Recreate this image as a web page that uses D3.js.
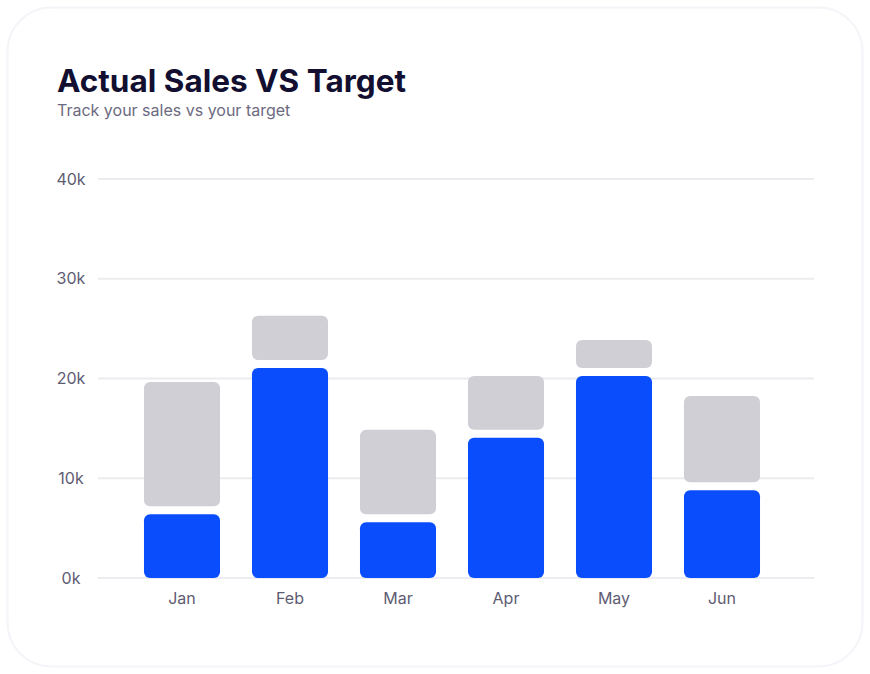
<html>
<head>
<meta charset="utf-8">
<title>Actual Sales VS Target</title>
<style>
  body { margin: 0; background: #ffffff; font-family: Inter, "Noto Sans", sans-serif; }
  svg { display: block; }
  .grid line { stroke: #ececf0; stroke-width: 2px; }
  .tick-label { fill: #5e5c72; font-size: 16px; }
</style>
</head>
<body>
<script src="https://cdn.jsdelivr.net/npm/d3@7/dist/d3.min.js"></script>
<script>
var months = ["Jan", "Feb", "Mar", "Apr", "May", "Jun"];
var actual = [6400, 21050, 5600, 14050, 20250, 8800];
var target = [19650, 26300, 14850, 20250, 23850, 18250];
var yTicks = [0, 10000, 20000, 30000, 40000];

var width = 870,
    height = 674,
    gap = 8;

var svg = d3.select("body").append("svg")
    .attr("width", width)
    .attr("height", height);

// card
svg.append("rect")
    .attr("x", 7.5).attr("y", 7.5)
    .attr("width", 855).attr("height", 659)
    .attr("rx", 44)
    .attr("fill", "#fff")
    .attr("stroke", "#f4f4f9")
    .attr("stroke-width", 2);

svg.append("text")
    .attr("x", 57).attr("y", 92)
    .attr("fill", "#120f30")
    .style("font-size", "31.5px")
    .style("font-weight", 700)
    .text("Actual Sales VS Target");

svg.append("text")
    .attr("x", 57).attr("y", 116)
    .attr("fill", "#6c6a80")
    .style("font-size", "16px")
    .text("Track your sales vs your target");

var x = d3.scaleBand()
    .domain(months)
    .range([128, 776])
    .paddingInner(0.296)
    .paddingOuter(0.148);

var y = d3.scaleLinear()
    .domain([0, 40000])
    .range([578, 179]);

// gridlines
var grid = svg.append("g").attr("class", "grid");
grid.selectAll("line")
    .data(yTicks)
    .enter().append("line")
    .attr("x1", 98).attr("x2", 814)
    .attr("y1", function(d) { return y(d); })
    .attr("y2", function(d) { return y(d); });

svg.append("g").selectAll("text")
    .data(yTicks)
    .enter().append("text")
    .attr("class", "tick-label")
    .attr("x", 71)
    .attr("y", function(d) { return y(d); })
    .attr("dy", "0.35em")
    .attr("text-anchor", "middle")
    .text(function(d) { return (d / 1000) + "k"; });

var data = months.map(function(m, i) { return {month: m, actual: actual[i], target: target[i]}; });

// target remainder (gray), sitting above the actual bar with a small gap
svg.append("g").selectAll("rect")
    .data(data)
    .enter().append("rect")
    .attr("x", function(d) { return x(d.month); })
    .attr("width", x.bandwidth())
    .attr("y", function(d) { return y(d.target); })
    .attr("height", function(d) { return Math.max(0, y(d.actual) - gap - y(d.target)); })
    .attr("rx", 6)
    .attr("fill", "#cfcfd5");

// actual (blue)
svg.append("g").selectAll("rect")
    .data(data)
    .enter().append("rect")
    .attr("x", function(d) { return x(d.month); })
    .attr("width", x.bandwidth())
    .attr("y", function(d) { return y(d.actual); })
    .attr("height", function(d) { return y(0) - y(d.actual); })
    .attr("rx", 6)
    .attr("fill", "#0a4dfd");

svg.append("g").selectAll("text")
    .data(months)
    .enter().append("text")
    .attr("class", "tick-label")
    .attr("x", function(d) { return x(d) + x.bandwidth() / 2; })
    .attr("y", 604)
    .attr("text-anchor", "middle")
    .text(function(d) { return d; });
</script>
</body>
</html>
